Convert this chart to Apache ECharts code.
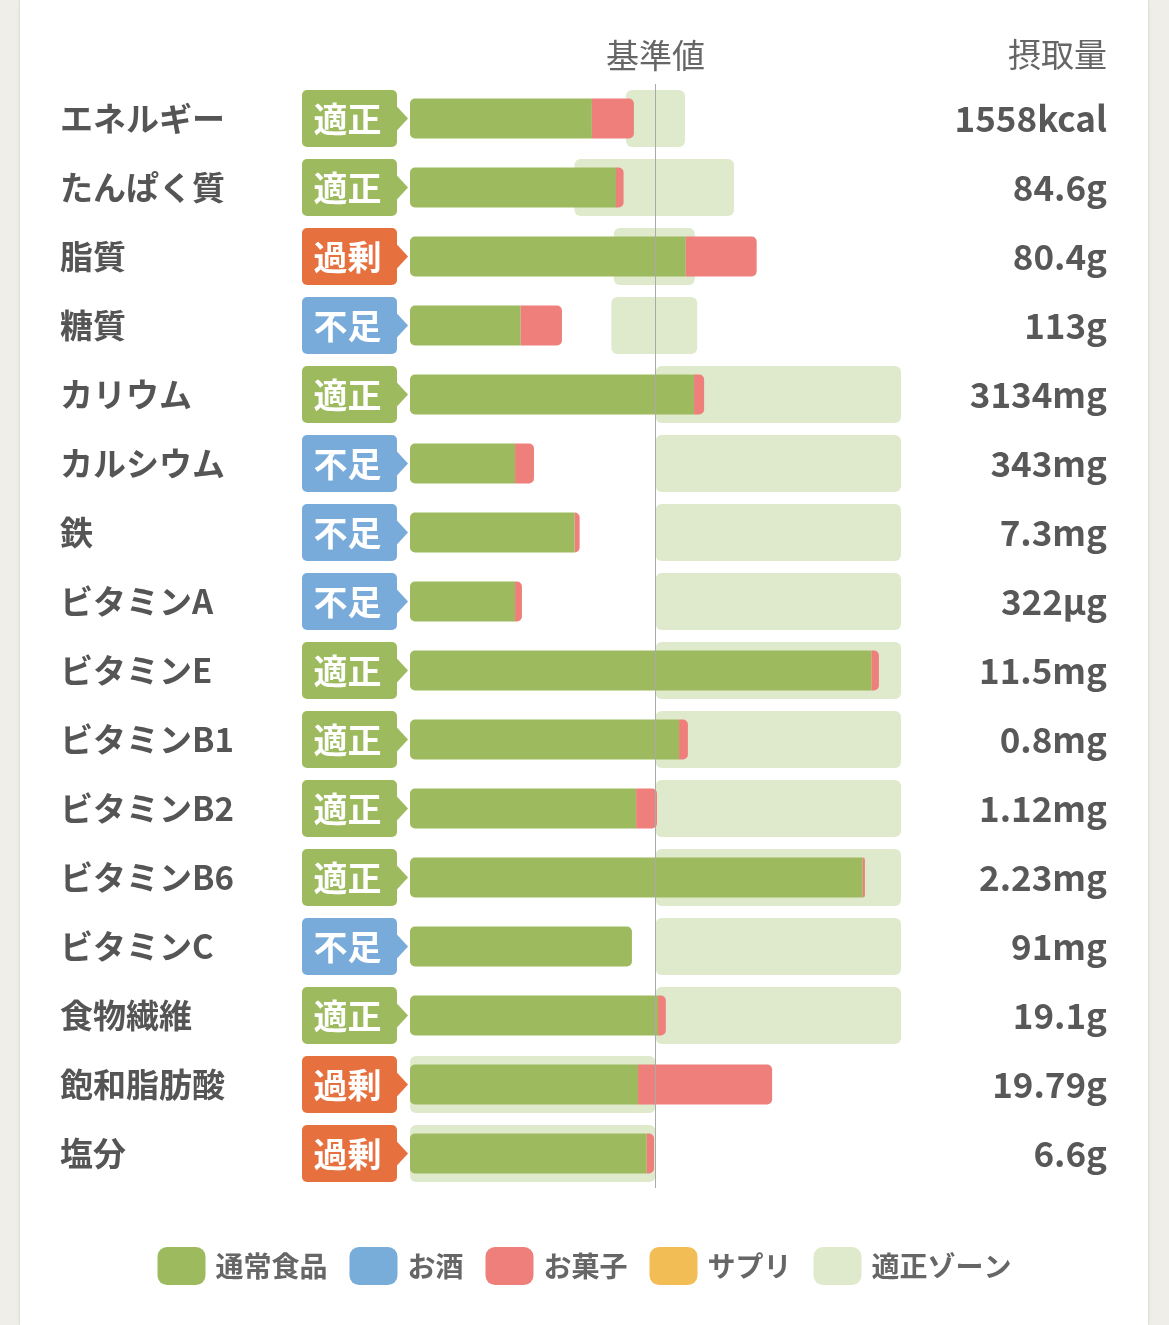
<!DOCTYPE html>
<html>
<head>
<meta charset="utf-8">
<script src="https://cdn.jsdelivr.net/npm/echarts@6/dist/echarts.min.js"></script>
<style>
    html,body{margin:0;padding:0;background:#efeee9;}
    #panel{position:absolute;left:20px;top:0;width:1128px;height:1325px;background:#fff;box-shadow:0 0 3px rgba(0,0,0,0.15);}
    #nutrientChart{position:absolute;left:0;top:0;width:1169px;height:1325px;}
</style>
</head>
<body>
<div id="panel"></div>
<div id="nutrientChart"></div>
<script>
    // 栄養素（上から順）
    var nutrients = ['エネルギー','たんぱく質','脂質','糖質','カリウム','カルシウム','鉄','ビタミンA','ビタミンE','ビタミンB1','ビタミンB2','ビタミンB6','ビタミンC','食物繊維','飽和脂肪酸','塩分'];
    var intakeLabels = ['1558kcal','84.6g','80.4g','113g','3134mg','343mg','7.3mg','322µg','11.5mg','0.8mg','1.12mg','2.23mg','91mg','19.1g','19.79g','6.6g'];
    var statusList = ['適正','適正','過剰','不足','適正','不足','不足','不足','適正','適正','適正','適正','不足','適正','過剰','過剰'];

    // 基準値に対する割合(%)
    var normalFood  = [74.1, 83.9, 112.3, 45.1, 115.7, 42.8, 67.1, 42.8, 188.0, 109.6, 92.1, 184.4, 90.4, 101.0, 92.9, 96.4];
    var alcohol     = [0, 0, 0, 0, 0, 0, 0, 0, 0, 0, 0, 0, 0, 0, 0, 0];
    var snacks      = [17.1, 3.1, 28.9, 16.8, 4.1, 7.7, 2.0, 2.8, 3.0, 3.6, 8.5, 0.9, 0, 3.2, 54.6, 3.0];
    var supplements = [0, 0, 0, 0, 0, 0, 0, 0, 0, 0, 0, 0, 0, 0, 0, 0];

    // 適正ゾーン(%)
    var zoneLow  = [88, 67, 83, 82, 100, 100, 100, 100, 100, 100, 100, 100, 100, 100, 0, 0];
    var zoneHigh = [112, 132, 116, 117, 200, 200, 200, 200, 200, 200, 200, 200, 200, 200, 100, 100];

    var statusColor = {'適正':'#9dbb5e','過剰':'#e7703f','不足':'#78abda'};
    var fontJp = '"Noto Sans CJK JP","Noto Sans",sans-serif';

    var zoneData = [], badgeData = [], foodData = [];
    for (var i = 0; i < nutrients.length; i++) {
        zoneData.push([i, zoneLow[i], zoneHigh[i]]);
        badgeData.push([i, 0, statusList[i]]);
        var r = snacks[i] > 0 ? [5, 0, 0, 5] : 5;
        foodData.push({value: normalFood[i], itemStyle: {borderRadius: r}});
    }

    var chart = echarts.init(document.getElementById('nutrientChart'));
    var option = {
        animation: false,
        textStyle: {fontFamily: fontJp},
        grid: {left: 410, right: 268, top: 84, height: 1104},
        xAxis: {
            type: 'value', min: 0, max: 200, position: 'top',
            axisLine: {show: false}, axisTick: {show: false},
            axisLabel: {show: false}, splitLine: {show: false},
            name: '基準値', nameLocation: 'middle', nameGap: 12,
            nameTextStyle: {fontSize: 33, color: '#666', fontFamily: fontJp}
        },
        yAxis: [{
            type: 'category', inverse: true, data: nutrients,
            axisLine: {show: false}, axisTick: {show: false},
            axisLabel: {align: 'left', margin: 350, fontSize: 33, fontWeight: 'bold', color: '#555', fontFamily: fontJp}
        }, {
            type: 'category', inverse: true, data: intakeLabels, position: 'right',
            axisLine: {show: false}, axisTick: {show: false},
            axisLabel: {align: 'right', margin: 206, fontSize: 35, fontWeight: 'bold', color: '#585858', fontFamily: fontJp}
        }],
        legend: {
            top: 1242, left: 'center', icon: 'roundRect',
            itemWidth: 48, itemHeight: 38, itemGap: 22, selectedMode: false,
            textStyle: {fontSize: 28, fontWeight: 'bold', color: '#666', fontFamily: fontJp, padding: [0, 0, 0, 5]},
            data: ['通常食品', 'お酒', 'お菓子', 'サプリ', {name: '適正ゾーン', itemStyle: {color: '#dfe9cc'}}]
        },
        graphic: [{
            type: 'text', right: 62, top: 38,
            style: {text: '摂取量', fontSize: 33, fill: '#666', fontFamily: fontJp}
        }],
        series: [{
            name: '適正ゾーン', type: 'custom',
            itemStyle: {color: '#dfe9cc'},
            encode: {x: [1, 2], y: 0},
            data: zoneData,
            renderItem: function (params, api) {
                var s = api.coord([api.value(1), api.value(0)]);
                var e = api.coord([api.value(2), api.value(0)]);
                return {
                    type: 'rect',
                    shape: {x: s[0], y: s[1] - 28.5, width: e[0] - s[0], height: 57, r: 6},
                    style: {fill: '#dfe9cc'}
                };
            }
        }, {
            name: '通常食品', type: 'bar', stack: 'intake', barWidth: 40,
            itemStyle: {color: '#9dbb5e'}, data: foodData
        }, {
            name: 'お酒', type: 'bar', stack: 'intake', barWidth: 40,
            itemStyle: {color: '#78acd9'}, data: alcohol
        }, {
            name: 'お菓子', type: 'bar', stack: 'intake', barWidth: 40,
            itemStyle: {color: '#ee7f7b', borderRadius: [0, 5, 5, 0]}, data: snacks
        }, {
            name: 'サプリ', type: 'bar', stack: 'intake', barWidth: 40,
            itemStyle: {color: '#f3bd55'}, data: supplements
        }, {
            name: 'badge', type: 'custom', z: 5,
            encode: {x: 1, y: 0},
            data: badgeData,
            renderItem: function (params, api) {
                var p = api.coord([0, api.value(0)]);
                var st = statusList[params.dataIndex];
                var c = statusColor[st];
                var x0 = p[0] - 108, x1 = p[0] - 13, y = p[1];
                return {
                    type: 'group',
                    children: [{
                        type: 'rect',
                        shape: {x: x0, y: y - 28.5, width: x1 - x0, height: 57, r: 5},
                        style: {fill: c}
                    }, {
                        type: 'polygon',
                        shape: {points: [[x1 - 1, y - 13], [p[0] - 2, y], [x1 - 1, y + 13]]},
                        style: {fill: c}
                    }, {
                        type: 'text',
                        style: {
                            text: st, x: (x0 + x1) / 2 - 2, y: y + 1,
                            align: 'center', verticalAlign: 'middle',
                            fontSize: 34, fontWeight: 'bold', fill: '#fff', fontFamily: fontJp
                        }
                    }]
                };
            },
            markLine: {
                silent: true, symbol: 'none',
                label: {show: false},
                lineStyle: {color: '#aaa', width: 1, type: 'solid'},
                data: [{xAxis: 100}]
            }
        }]
    };
    chart.setOption(option);
</script>
</body>
</html>
